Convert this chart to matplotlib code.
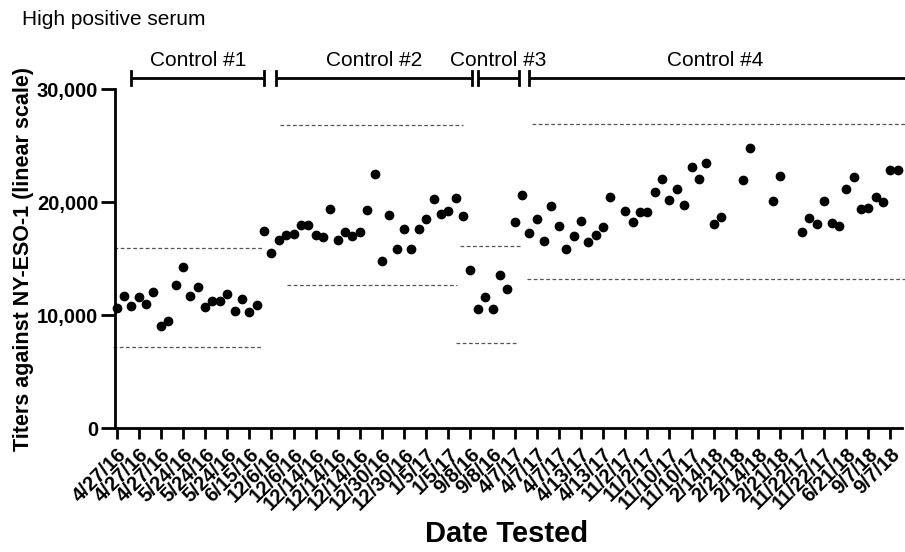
import numpy as np
import matplotlib
matplotlib.use("Agg")
import matplotlib.pyplot as plt

# ---- data ----
titers = [10670, 11710, 10800, 11650, 11000, 12060, 9030, 9500, 12680, 14270,
          11740, 12500, 10710, 11240, 11290, 11910, 10380, 11420, 10320, 10890,
          17460, 15510, 16640, 17110, 17170, 17990, 17990, 17130, 16930, 19380,
          16660, 17400, 17020, 17400, 19320, 22530, 14810, 18900, 15890, 17660,
          15890, 17610, 18550, 20270, 18970, 19230, 20410, 18790, 14040, 10530,
          11650, 10530, 13570, 12330, 18280, 20650, 17310, 18520, 16580, 19700,
          17900, 15870, 17020, 18370, 16490, 17130, 17790, 20440, np.nan, 19200,
          18230, 19120, 19120, 20940, 22040, 20230, 21200, 19740, 23150, 22090,
          23500, 18050, 18730, np.nan, np.nan, 21950, 24830, np.nan, np.nan, 20140,
          22300, np.nan, np.nan, 17350, 18610, 18050, 20090, 18170, 17900, 21200,
          22210, 19410, 19470, 20470, 20000, 22860, 22860]

tick_labels = ["4/27/16", "4/27/16", "4/27/16", "5/24/16", "5/24/16", "5/24/16",
               "6/15/16", "12/6/16", "12/6/16", "12/14/16", "12/14/16", "12/14/16",
               "12/30/16", "12/30/16", "1/5/17", "1/5/17", "9/8/16", "9/8/16",
               "4/7/17", "4/7/17", "4/7/17", "4/13/17", "4/13/17", "11/2/17",
               "11/2/17", "11/10/17", "11/10/17", "2/14/18", "2/21/18", "2/14/18",
               "2/21/18", "11/22/17", "11/22/17", "6/21/18", "9/7/18", "9/7/18"]

controls = ["Control #1", "Control #2", "Control #3", "Control #4"]
control_start = [2.0, 21.6, 49.0, 56.0]
control_end = [20.0, 48.2, 54.6, 107.0]

upper_limit = [15980, 26840, 16160, 26930]
upper_start = [-0.3, 22.2, 46.6, 56.3]
upper_end = [20.0, 47.0, 54.7, 107.0]
lower_limit = [7220, 12680, 7575, 13190]
lower_start = [-0.5, 23.1, 46.0, 55.7]
lower_end = [19.9, 46.2, 54.2, 107.0]

y_ticks = [0, 10000, 20000, 30000]

# ---- plot ----
plt.rcParams['font.family'] = ['Liberation Sans', 'DejaVu Sans']
fig = plt.figure(figsize=(9.05, 5.52), dpi=100)
ax = fig.add_axes([0.127, 0.2241, 0.8696, 0.6141])

x = np.arange(len(titers))
ax.plot(x, titers, 'o', color='black', markersize=6, linestyle='none', clip_on=False, zorder=3)

for u, s, e in zip(upper_limit, upper_start, upper_end):
    ax.plot([s, e], [u, u], color='#555555', lw=0.9, dashes=(3, 2), clip_on=False)
for l, s, e in zip(lower_limit, lower_start, lower_end):
    ax.plot([s, e], [l, l], color='#555555', lw=0.9, dashes=(3, 2), clip_on=False)

# brackets
by = 31000
cap = 600
for name, s, e in zip(controls, control_start, control_end):
    ax.plot([s, e], [by, by], color='black', lw=2, clip_on=False, solid_capstyle='butt')
    ax.plot([s, s], [by - cap, by + cap], color='black', lw=2, clip_on=False)
    if e < 106.9:
        ax.plot([e, e], [by - cap, by + cap], color='black', lw=2, clip_on=False)
    ax.text((s + min(e, 106.5)) / 2, by + 750, name, ha='center', va='bottom', fontsize=15)

ax.set_xlim(-0.23, 106.55)
ax.set_ylim(0, 30000)
ax.set_yticks(y_ticks)
ax.set_yticklabels([f"{v:,}" for v in y_ticks], fontsize=14.5, fontweight='bold')
ax.set_xticks(np.arange(0, len(tick_labels) * 3, 3))
ax.set_xticklabels(tick_labels, rotation=45, ha='right', rotation_mode='anchor',
                   fontsize=14.5, fontweight='bold')

for sp in ['top', 'right']:
    ax.spines[sp].set_visible(False)
for sp in ['left', 'bottom']:
    ax.spines[sp].set_linewidth(2)
ax.tick_params(axis='both', width=2, length=8, direction='out')
ax.tick_params(axis='y', length=10, pad=2)
ax.tick_params(axis='x', pad=4)

ax.set_ylabel("Titers against NY-ESO-1 (linear scale)", fontsize=15.5, fontweight='bold', labelpad=2)
fig.text(0.56, 0.033, "Date Tested", fontsize=21, fontweight='bold', ha='center', va='center')

fig.text(0.024, 0.965, "High positive serum", fontsize=15, va='center', ha='left')

fig.savefig("out.png", dpi=100)
